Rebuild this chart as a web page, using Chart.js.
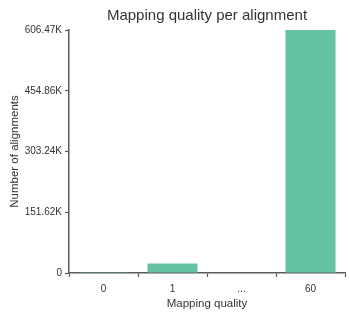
<!DOCTYPE html>
<html lang="en">
<head>
    <meta charset="UTF-8">
    <title>Mapping quality per alignment</title>
    <script src="https://cdn.jsdelivr.net/npm/chart.js"></script>
    <style>
        body {
            margin: 0;
            padding: 0;
            background: #ffffff;
        }
        canvas {
            display: block;
        }
    </style>
</head>
<body>
    <canvas id="mapq" width="349" height="318"></canvas>
    <script>
        // data
        const categories = ["0", "1", "...", "60"];
        const alignmentCounts = [2000, 23500, 0, 606470];
        const yTickValues = [0, 151617.5, 303235, 454852.5, 606470];
        const yTickLabels = ["0", "151.62K", "303.24K", "454.86K", "606.47K"];

        const fontFamily = '"Liberation Sans", Arial, Helvetica, sans-serif';
        const axisColor = "#5a5a5a";
        const textColor = "#333333";

        const ctx = document.getElementById("mapq").getContext("2d");
        const chart = new Chart(ctx, {
            type: "bar",
            data: {
                labels: categories,
                datasets: [{
                    data: alignmentCounts,
                    backgroundColor: "#66c2a5",
                    borderWidth: 0,
                    categoryPercentage: 1.0,
                    barPercentage: 0.725,
                }],
            },
            options: {
                responsive: false,
                animation: false,
                layout: {
                    padding: { left: 0, right: 4, top: 0, bottom: 0 },
                },
                plugins: {
                    legend: { display: false },
                    tooltip: { enabled: false },
                    title: {
                        display: true,
                        text: "Mapping quality per alignment",
                        fullSize: false,
                        color: textColor,
                        font: { family: fontFamily, size: 15, weight: "normal" },
                        padding: { top: 7, bottom: 5 },
                    },
                },
                scales: {
                    x: {
                        grid: {
                            display: true,
                            drawOnChartArea: false,
                            drawTicks: true,
                            tickLength: 4,
                            tickColor: axisColor,
                            tickWidth: 1.2,
                        },
                        border: { display: true, color: axisColor, width: 1.5 },
                        ticks: {
                            color: textColor,
                            font: { family: fontFamily, size: 10 },
                            padding: 6,
                            maxRotation: 0,
                        },
                        title: {
                            display: true,
                            text: "Mapping quality",
                            color: textColor,
                            font: { family: fontFamily, size: 11.5 },
                            padding: { top: 2, bottom: 7 },
                        },
                        afterFit: (scale) => { scale.height = 45; },
                    },
                    y: {
                        min: 0,
                        max: yTickValues[yTickValues.length - 1],
                        afterBuildTicks: (scale) => {
                            scale.ticks = yTickValues.map((v) => ({ value: v }));
                        },
                        grid: {
                            display: true,
                            drawOnChartArea: false,
                            drawTicks: true,
                            tickLength: 4,
                            tickColor: axisColor,
                            tickWidth: 1.2,
                        },
                        border: { display: true, color: axisColor, width: 1.5 },
                        ticks: {
                            color: textColor,
                            font: { family: fontFamily, size: 10 },
                            padding: 3,
                            callback: (value, index) => yTickLabels[index],
                        },
                        title: {
                            display: true,
                            text: "Number of alignments",
                            color: textColor,
                            font: { family: fontFamily, size: 11.5 },
                            padding: { top: 8, bottom: 4 },
                        },
                        afterFit: (scale) => { scale.width = 69; },
                    },
                },
            },
        });
    </script>
</body>
</html>
